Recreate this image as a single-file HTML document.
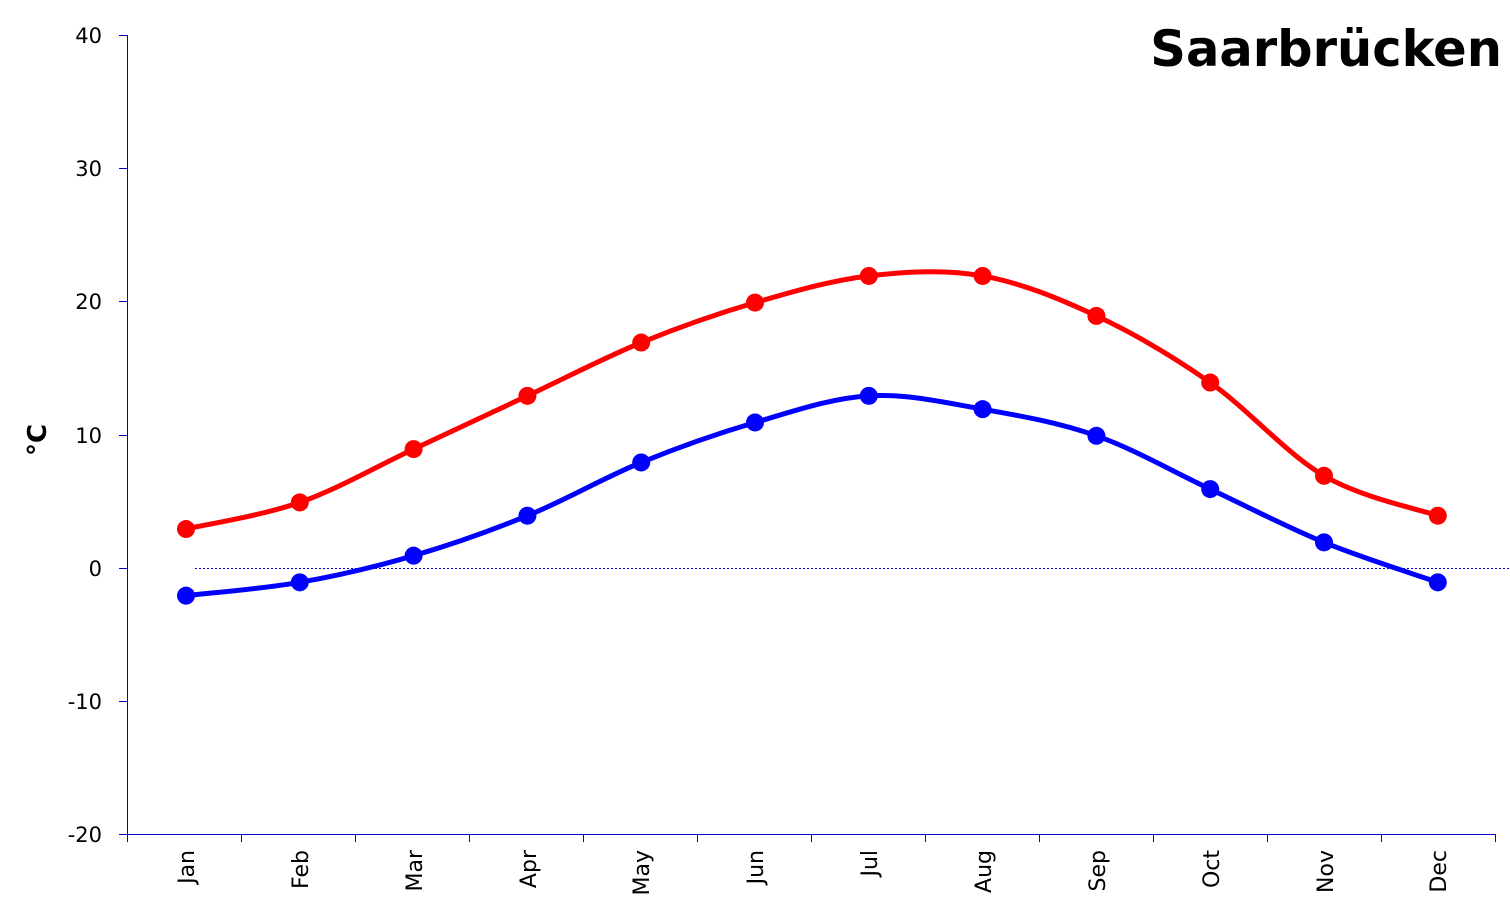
<!DOCTYPE html>
<html><head><meta charset="utf-8"><style>
html,body{margin:0;padding:0;background:#fff;}
svg{display:block;font-family:"DejaVu Sans","Liberation Sans",sans-serif;}
</style></head><body>
<svg id="c" width="1510" height="921" viewBox="0 0 1510 921" xmlns="http://www.w3.org/2000/svg">
<rect width="1510" height="921" fill="#fff"/>
<text x="1502" y="66" text-anchor="end" font-size="49.5" font-weight="bold" fill="#000">Saarbrücken</text>
<text transform="translate(46,440) rotate(-90)" text-anchor="middle" font-size="26" font-weight="bold">°C</text>
<g stroke="#00c" stroke-width="1" fill="none">
<line x1="127.5" y1="35" x2="127.5" y2="834"/>
<line x1="127" y1="834.5" x2="1495" y2="834.5"/>
<line x1="119" y1="35.5" x2="127" y2="35.5"/>
<line x1="119" y1="168.5" x2="127" y2="168.5"/>
<line x1="119" y1="301.5" x2="127" y2="301.5"/>
<line x1="119" y1="435.5" x2="127" y2="435.5"/>
<line x1="119" y1="568.5" x2="127" y2="568.5"/>
<line x1="119" y1="701.5" x2="127" y2="701.5"/>
<line x1="119" y1="834.5" x2="127" y2="834.5"/>
<line x1="195" y1="568.5" x2="1510" y2="568.5" stroke-dasharray="2,2"/>
</g>
<g id="xt" stroke="#00c" stroke-width="1"></g>
<g font-size="21" text-anchor="end" fill="#000">
<text x="102" y="43">40</text><text x="102" y="176">30</text><text x="102" y="309">20</text>
<text x="102" y="443">10</text><text x="102" y="576">0</text><text x="102" y="709">-10</text><text x="102" y="842">-20</text>
</g>
<g font-size="22" text-anchor="end" fill="#000" id="ml">
<text transform="translate(194,850) rotate(-90)">Jan</text>
<text transform="translate(308,850) rotate(-90)">Feb</text>
<text transform="translate(422,850) rotate(-90)">Mar</text>
<text transform="translate(536,850) rotate(-90)">Apr</text>
<text transform="translate(649,850) rotate(-90)">May</text>
<text transform="translate(763,850) rotate(-90)">Jun</text>
<text transform="translate(877,850) rotate(-90)">Jul</text>
<text transform="translate(991,850) rotate(-90)">Aug</text>
<text transform="translate(1105,850) rotate(-90)">Sep</text>
<text transform="translate(1219,850) rotate(-90)">Oct</text>
<text transform="translate(1333,850) rotate(-90)">Nov</text>
<text transform="translate(1446,850) rotate(-90)">Dec</text>
</g>
<g id="series"></g>
</svg>
<script>
var NS="http://www.w3.org/2000/svg";
var xt=document.getElementById('xt');
for(var i=0;i<=12;i++){var x=127.5+i*114;var l=document.createElementNS(NS,'line');
l.setAttribute('x1',x);l.setAttribute('x2',x);l.setAttribute('y1',834);l.setAttribute('y2',842);xt.appendChild(l);}
function X(i){return 186+i*113.8;}
function Y(v){return 569-v*13.32;}
function draw(d,col){
 var p=d.map(function(v,i){return [X(i),Y(v)];});
 var s="M"+p[0][0]+","+p[0][1];
 for(var i=0;i<p.length-1;i++){
  var p0=p[Math.max(0,i-1)],p1=p[i],p2=p[i+1],p3=p[Math.min(p.length-1,i+2)];
  var c1=[p1[0]+(p2[0]-p0[0])/6,p1[1]+(p2[1]-p0[1])/6];
  var c2=[p2[0]-(p3[0]-p1[0])/6,p2[1]-(p3[1]-p1[1])/6];
  s+=" C"+c1+" "+c2+" "+p2;
 }
 var g=document.getElementById('series');
 var path=document.createElementNS(NS,'path');
 path.setAttribute('d',s);path.setAttribute('fill','none');path.setAttribute('stroke',col);path.setAttribute('stroke-width','5');
 g.appendChild(path);
 p.forEach(function(q){var c=document.createElementNS(NS,'circle');c.setAttribute('cx',q[0]);c.setAttribute('cy',q[1]);c.setAttribute('r','9');c.setAttribute('fill',col);g.appendChild(c);});
}
draw([3,5,9,13,17,20,22,22,19,14,7,4],'#ff0000');
draw([-2,-1,1,4,8,11,13,12,10,6,2,-1],'#0000ff');
</script>
</body></html>
